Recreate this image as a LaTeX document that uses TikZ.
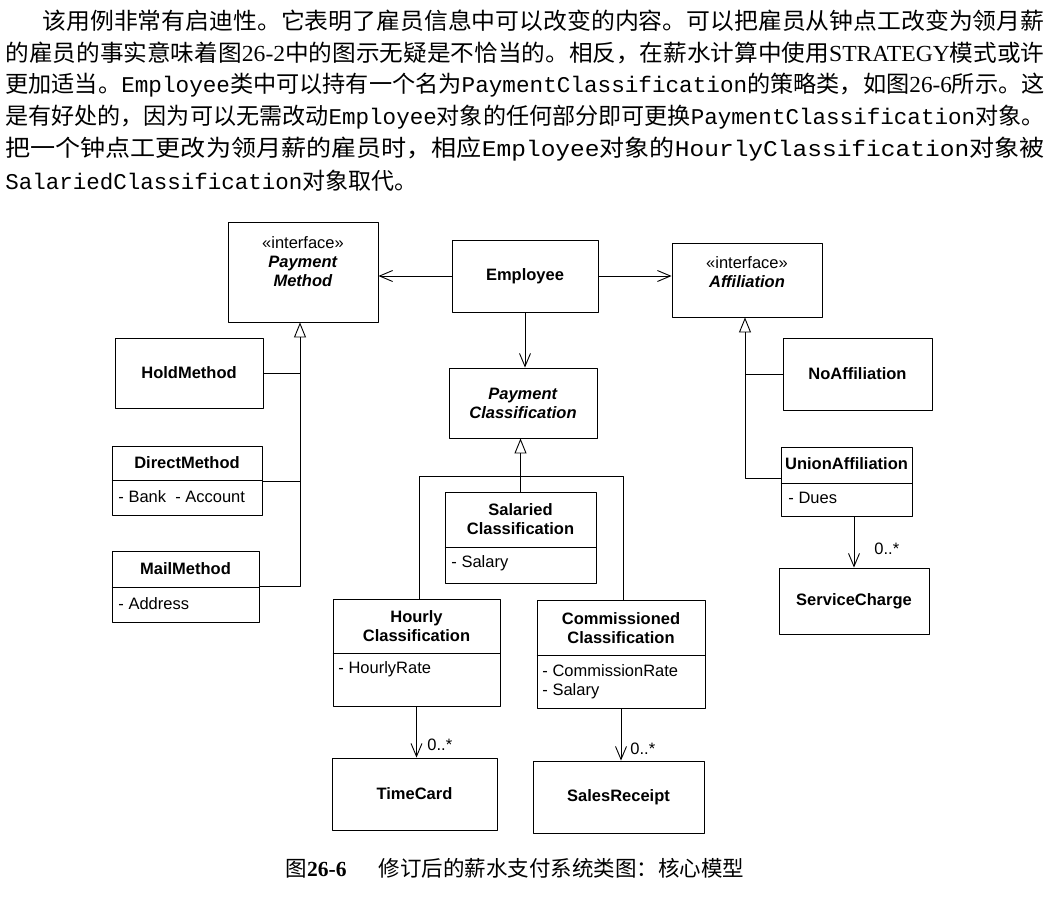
\documentclass[tikz,border=0pt]{standalone}
\usepackage{fontspec}
\usepackage{graphicx}
\setmainfont{Liberation Serif}
\newfontfamily\cjk{Noto Sans CJK SC}
\newfontfamily\mono{Liberation Mono}
\newfontfamily\umlfont{Liberation Sans}
\usetikzlibrary{arrows.meta}
\newcommand{\umlsize}{\fontsize{16.5}{19}\selectfont}
\newcommand{\code}[1]{{\mono\fontsize{22.5}{28}\selectfont #1}}
\newcommand{\lat}[1]{{\rmfamily #1}}
\tikzset{
	cls/.style={draw, inner sep=0pt, font=\umlfont\umlsize\bfseries, align=center},
	ctitle/.style={inner sep=0pt, font=\umlfont\umlsize\bfseries, align=center},
	attr/.style={inner sep=0pt, anchor=west, font=\umlfont\umlsize, align=left},
	mult/.style={inner sep=0pt, anchor=west, font=\umlfont\umlsize},
	assoc/.style={-{Straight Barb[length=13pt,width=11pt]}},
	gen/.style={-{Triangle[open,length=15pt,width=12pt]}},
	txt/.style={inner sep=0pt, anchor=west, font=\cjk\fontsize{23}{28}\selectfont},
}
\begin{document}
\begin{tikzpicture}[x=1pt, y=-1pt, line width=0.9pt, line join=round]
	\useasboundingbox (0,0) rectangle (1054,897);
	
	% text above the figure
	\node[txt] (l1) at (42,21) {\resizebox{1002pt}{\height}{该用例非常有启迪性。它表明了雇员信息中可以改变的内容。可以把雇员从钟点工改变为领月薪}};
	\node[txt] (l2) at (5,53) {\resizebox{1039pt}{\height}{的雇员的事实意味着图\lat{26-2}中的图示无疑是不恰当的。相反，在薪水计算中使用\lat{STRATEGY}模式或许}};
	\node[txt] (l3) at (5,85) {\resizebox{1039pt}{\height}{更加适当。\code{Employee}类中可以持有一个名为\code{PaymentClassification}的策略类，如图\lat{26-6}所示。这}};
	\node[txt] (l4) at (5,117) {\resizebox{1039pt}{\height}{是有好处的，因为可以无需改动\code{Employee}对象的任何部分即可更换\code{PaymentClassification}对象。}};
	\node[txt] (l5) at (5,149) {\resizebox{1039pt}{\height}{把一个钟点工更改为领月薪的雇员时，相应\code{Employee}对象的\code{HourlyClassification}对象被}};
	\node[txt] (l6) at (5,181) {\code{SalariedClassification}对象取代。};
	
	% classes
	\node[cls, minimum width=150pt, minimum height=100pt] (pm) at (303,272) {};
	\node[ctitle] (pm-t) at (303,262) {{\mdseries «interface»}\\\textit{Payment}\\\textit{Method}};
	\node[cls, minimum width=146pt, minimum height=72pt] (emp) at (525,276) {Employee};
	\node[cls, minimum width=150pt, minimum height=74pt] (aff) at (747,280) {};
	\node[ctitle] (aff-t) at (747,272) {{\mdseries «interface»}\\\textit{Affiliation}};
	\node[cls, minimum width=148pt, minimum height=70pt] (hold) at (189,373) {HoldMethod};
	\node[cls, minimum width=148pt, minimum height=70pt] (pc) at (523,403) {\textit{Payment}\\\textit{Classification}};
	\node[cls, minimum width=149pt, minimum height=72pt] (noaff) at (857.5,374) {NoAffiliation};
	
	\node[cls, minimum width=150pt, minimum height=69pt] (direct) at (187,480.5) {};
	\node[ctitle] (direct-t) at (187,463) {DirectMethod};
	\node[attr] (direct-a) at (118,497) {- Bank\ \ - Account};
	
	\node[cls, minimum width=131pt, minimum height=69pt] (union) at (846.5,481.5) {};
	\node[ctitle] (union-t) at (846.5,464) {UnionAffiliation};
	\node[attr] (union-a) at (788,498) {- Dues};
	
	\node[cls, minimum width=151pt, minimum height=91pt] (sal) at (520.5,537.5) {};
	\node[ctitle] (sal-t) at (520.5,519) {Salaried\\Classification};
	\node[attr] (sal-a) at (451,563) {- Salary};
	
	\node[cls, minimum width=147pt, minimum height=71pt] (mail) at (185.5,586.5) {};
	\node[ctitle] (mail-t) at (185.5,569) {MailMethod};
	\node[attr] (mail-a) at (118,604) {- Address};
	
	\node[cls, minimum width=150pt, minimum height=66pt] (svc) at (854,601) {ServiceCharge};
	
	\node[cls, minimum width=167pt, minimum height=107pt] (hourly) at (416.5,652.5) {};
	\node[ctitle] (hourly-t) at (416.5,626) {Hourly\\Classification};
	\node[attr] (hourly-a) at (338,669) {- HourlyRate};
	
	\node[cls, minimum width=168pt, minimum height=108pt] (comm) at (621,654) {};
	\node[ctitle] (comm-t) at (621,628) {Commissioned\\Classification};
	\node[attr] (comm-a) at (542,682) {- CommissionRate\\- Salary};
	
	\node[cls, minimum width=165pt, minimum height=72pt] (time) at (414.5,794) {TimeCard};
	\node[cls, minimum width=171pt, minimum height=72pt] (sales) at (618.5,797) {SalesReceipt};
	
	\foreach \b/\y in {direct/480, union/483, sal/547, mail/587, hourly/653, comm/655} {
		\draw (\b.west |- 0,\y) -- (\b.east |- 0,\y);
	}
	
	% associations
	\draw[assoc] (emp.west) -- (emp.west -| pm.east);
	\draw[assoc] (emp.east) -- (emp.east -| aff.west);
	\draw[assoc] (emp.south) -- (emp.south |- pc.north);
	\draw[assoc] (hourly.south) -- (hourly.south |- time.north);
	\draw[assoc] (comm.south) -- (comm.south |- sales.north);
	\draw[assoc] (svc.north |- union.south) -- (svc.north);
	\node[mult] (m-time) at (427,745) {0..*};
	\node[mult] (m-sales) at (630,749) {0..*};
	\node[mult] (m-svc) at (874,549) {0..*};
	
	% generalizations
	\coordinate (pmbus) at (300,586);
	\draw[gen] (mail.east |- pmbus) -- (pmbus) -- (pmbus |- pm.south);
	\draw (hold.east) -- (hold.east -| pmbus);
	\draw (direct.east |- 0,481) -- (pmbus |- 0,481);
	
	\coordinate (hl) at (419,476);
	\coordinate (hr) at (623,476);
	\draw[gen] (sal.north) -- (sal.north |- pc.south);
	\draw (hourly.north -| hl) -- (hl) -- (hr) -- (comm.north -| hr);
	
	\coordinate (affbus) at (745,478);
	\draw[gen] (union.west |- affbus) -- (affbus) -- (affbus |- aff.south);
	\draw (noaff.west) -- (noaff.west -| affbus);
	
	\node[inner sep=0pt, font=\cjk\fontsize{21.5}{25}\selectfont] (cap) at (515,868) {图\lat{\bfseries 26-6}\hspace{1.5em}修订后的薪水支付系统类图：核心模型};
\end{tikzpicture}
\end{document}
